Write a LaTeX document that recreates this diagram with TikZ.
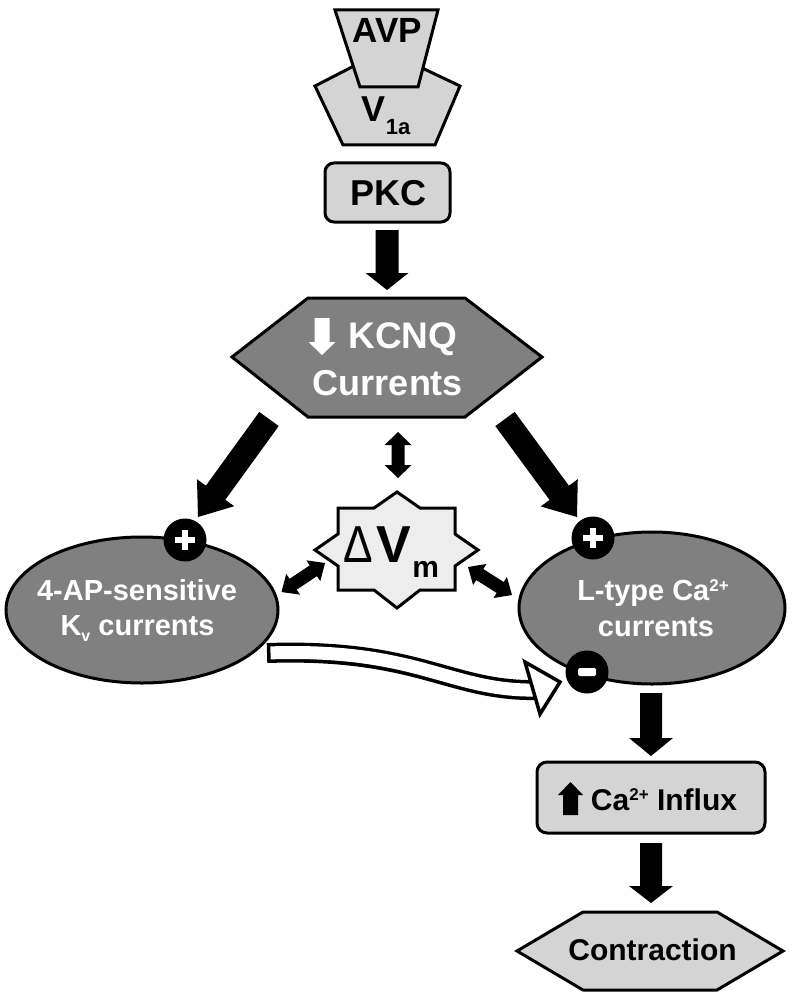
\documentclass[tikz,border=0pt]{standalone}
\usepackage{fontspec}
\setmainfont{Liberation Sans}
\usetikzlibrary{calc,shapes.geometric}
\definecolor{lightg}{RGB}{212,212,212}
\definecolor{darkg}{RGB}{128,128,128}
\definecolor{paleg}{RGB}{237,237,237}
% #1 colour, #2 start, #3 tip, #4 half shaft, #5 half head, #6 head length
\newcommand\fatarrow[6][black]{%
  \coordinate (fah) at ($(#3)!#6!(#2)$);
  \fill[#1] ($(#2)!#4!90:(#3)$) -- ($(fah)!#4!90:(#3)$) -- ($(fah)!#5!90:(#3)$) -- (#3)
    -- ($(fah)!#5!-90:(#3)$) -- ($(fah)!#4!-90:(#3)$) -- ($(#2)!#4!-90:(#3)$) -- cycle;}
% #1 tip A, #2 tip B, #3 half shaft, #4 half head, #5 head length
\newcommand\dblarrow[5]{%
  \coordinate (dah) at ($(#1)!#5!(#2)$);
  \coordinate (dbh) at ($(#2)!#5!(#1)$);
  \fill (#1) -- ($(dah)!#4!90:(#2)$) -- ($(dah)!#3!90:(#2)$) -- ($(dbh)!#3!-90:(#1)$)
    -- ($(dbh)!#4!-90:(#1)$) -- (#2) -- ($(dbh)!#4!90:(#1)$) -- ($(dbh)!#3!90:(#1)$)
    -- ($(dah)!#3!-90:(#2)$) -- ($(dah)!#4!-90:(#2)$) -- cycle;}
\begin{document}
\begin{tikzpicture}[x=1pt,y=-1pt,
  lightshape/.style={draw=black,line width=3pt,fill=lightg,line join=miter},
  darkshape/.style={draw=black,line width=3pt,fill=darkg},
  tx/.style={inner sep=0pt,anchor=base,font=\fontsize{#1}{#1}\selectfont\bfseries},
  sign/.style={circle,fill=black,minimum size=43pt,inner sep=0pt}]
\useasboundingbox[fill=white] (0,0) rectangle (800,1003);

% V1a receptor and AVP
\draw[lightshape] (315,86) -- (352,67) -- (420,67) -- (460,86) -- (435,145) -- (343,145) -- cycle;
\draw[lightshape] (335,10) -- (438,10) -- (418,87) -- (360,87) -- cycle;
\node[tx=35] (avp) at (387,43) {AVP};
\node[tx=36] (v1a) at (386,122) {V\raisebox{-13pt}{\fontsize{22}{22}\selectfont 1a}};

% PKC
\node[lightshape,rounded corners=9pt,minimum width=125pt,minimum height=59pt,inner sep=0pt] (pkc) at (387.5,192.5) {};
\node[tx=36] (pkct) at (388,205) {PKC};

% KCNQ
\draw[darkshape] (308,298) -- (465,298) -- (542,357) -- (465,417) -- (308,417) -- (232,357) -- cycle;
\coordinate (kcnq) at (387,357);
\node[tx=37,text=white] (kcnqt) at (403,348) {KCNQ};
\node[tx=36,text=white] (curt) at (388,395) {Currents};
\coordinate (dnS) at (322,318); \coordinate (dnT) at (322,355);
\fatarrow[white]{dnS}{dnT}{7.5pt}{13.5pt}{13pt}

% Delta Vm star
\draw[draw=black,line width=3pt,fill=paleg,line join=miter]
  (397,492) -- (420,508) -- (455,508) -- (455,534) -- (478,550) -- (455,566) -- (455,590)
  -- (420,590) -- (397,608) -- (374,590) -- (338,590) -- (338,566) -- (315,550) -- (338,534)
  -- (338,508) -- (374,508) -- cycle;
\node[tx=52,anchor=base west] (dvm) at (343,562)
  {{\fontsize{52}{52}\selectfont\mdseries\scalebox{0.85}[1]{Δ}}\kern4pt V\kern1pt\raisebox{-15pt}{\fontsize{30}{30}\selectfont m}};

% ellipses
\node[darkshape,ellipse,minimum width=272pt,minimum height=146pt,inner sep=0pt] (kv) at (142,610) {};
\node[tx=29,text=white] (kvt1) at (137,600) {4-AP-sensitive};
\node[tx=29,text=white] (kvt2) at (137.5,635) {K\raisebox{-6pt}{\fontsize{16}{16}\selectfont v} currents};
\node[darkshape,ellipse,minimum width=266pt,minimum height=152pt,inner sep=0pt] (ltype) at (652,608) {};
\node[tx=29,text=white] (lt1) at (653,600) {L-type Ca\raisebox{9pt}{\fontsize{17}{17}\selectfont 2+}};
\node[tx=29,text=white] (lt2) at (656,636) {currents};

% white curved arrow (Kv -> L-type, inhibitory)
\coordinate (wS) at (267,653); \coordinate (wE) at (538,690);
\draw[line width=20pt] (wS) .. controls (420,648) and (450,692) .. (wE);
\draw[white,line width=13pt,shorten <=3.5pt] (wS) .. controls (420,648) and (450,692) .. (wE);
\draw[line width=3.5pt,fill=white,line join=miter] (525,662) -- (560,682) -- (540,714) -- cycle;

% signs
\node[sign] (plusL) at (185,540) {};
\fill[white] ($(plusL)+(-10,-3)$) rectangle ($(plusL)+(10,3)$);
\fill[white] ($(plusL)+(-3,-10)$) rectangle ($(plusL)+(3,10)$);
\node[sign] (plusR) at (593,538) {};
\fill[white] ($(plusR)+(-10,-3)$) rectangle ($(plusR)+(10,3)$);
\fill[white] ($(plusR)+(-3,-10)$) rectangle ($(plusR)+(3,10)$);
\node[sign] (minus) at (587,672) {};
\fill[white,rounded corners=1.5pt] ($(minus)+(-9,-4)$) rectangle ($(minus)+(9,4)$);

% main arrows
\coordinate (pkcS) at (387,230); \coordinate (kcnqT) at (387,290);
\fatarrow{pkcS}{kcnqT}{11.5pt}{21.5pt}{17pt}
\coordinate (kcL) at (269,419); \coordinate (kvT) at (198,517);
\fatarrow{kcL}{kvT}{12pt}{23pt}{30pt}
\coordinate (kcR) at (505,419); \coordinate (ltT) at (577,517);
\fatarrow{kcR}{ltT}{12pt}{23pt}{30pt}
\coordinate (ltS) at (651,693); \coordinate (caT) at (651,756);
\fatarrow{ltS}{caT}{11pt}{22pt}{18pt}
\coordinate (caS) at (651,843); \coordinate (conT) at (651,903);
\fatarrow{caS}{conT}{11pt}{22pt}{17pt}

% double arrows with Delta Vm
\coordinate (dv1) at (398,432); \coordinate (dv2) at (398,478);
\dblarrow{dv1}{dv2}{6.5pt}{13.5pt}{13pt}
\coordinate (dl1) at (281.5,592); \coordinate (dl2) at (325,563);
\dblarrow{dl1}{dl2}{6.5pt}{12.5pt}{14pt}
\coordinate (dr1) at (468,567); \coordinate (dr2) at (512,595);
\dblarrow{dr1}{dr2}{6.5pt}{12.5pt}{14pt}

% Ca influx
\node[lightshape,rounded corners=10pt,minimum width=228pt,minimum height=71pt,inner sep=0pt] (ca) at (651,797.5) {};
\node[tx=30] (cat) at (664,810) {Ca\raisebox{10pt}{\fontsize{17}{17}\selectfont 2+} Influx};
\coordinate (upS) at (570.5,815); \coordinate (upT) at (570.5,782);
\fatarrow{upS}{upT}{7.5pt}{12.5pt}{13pt}

% Contraction
\draw[lightshape] (517,951) -- (583,912) -- (717,912) -- (783,951) -- (717,990) -- (583,990) -- cycle;
\coordinate (con) at (650,951);
\node[tx=30] (cont) at (652.5,960) {Contraction};
\end{tikzpicture}
\end{document}
